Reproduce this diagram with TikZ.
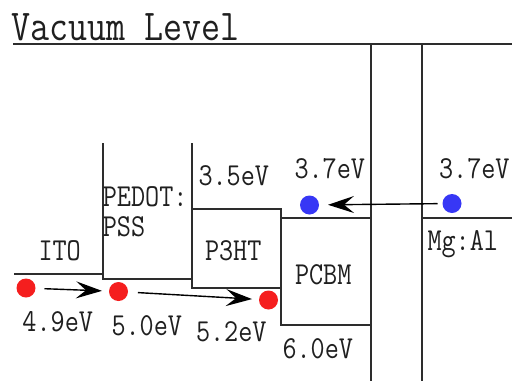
\documentclass[tikz,border=0pt]{standalone}
\usepackage{graphicx}
\usetikzlibrary{arrows.meta}
\definecolor{dotred}{RGB}{245,30,30}
\definecolor{dotblue}{RGB}{55,55,245}
\definecolor{lvlgray}{RGB}{45,45,45}
\newcommand\narrowtxt[1]{\scalebox{0.857}[1]{#1}}
\newcommand\narrowbig[1]{\scalebox{0.84}[1]{#1}}
\begin{document}
\begin{tikzpicture}[x=1pt,y=-1pt,
  lvl/.style={draw=lvlgray, line width=1.6pt, line join=miter},
  lab/.style={anchor=base west, inner sep=0pt, outer sep=0pt, font=\ttfamily\fontsize{32}{32}\selectfont, text=black!88},
  biglab/.style={anchor=base west, inner sep=0pt, outer sep=0pt, font=\ttfamily\fontsize{44}{44}\selectfont, text=black!88},
  dot/.style={circle, inner sep=0pt, outer sep=0pt, minimum size=19pt},
  arr/.style={-{Stealth[length=26pt,width=17pt,inset=10pt]}, line width=1.4pt, black}]
\useasboundingbox (0,0) rectangle (512,381);

% energy levels
\draw[lvl] (13,44) -- (512,44);
\draw[lvl] (371,44) -- (371,381);
\draw[lvl] (422,44) -- (422,381);
\draw[lvl] (14,274) -- (103,274);
\draw[lvl] (103,143) -- (103,279) -- (192,279);
\draw[lvl] (192,143) -- (192,288) -- (281,288);
\draw[lvl] (192,209) -- (281,209) -- (281,325) -- (371,325);
\draw[lvl] (281,218) -- (371,218);
\draw[lvl] (422,218) -- (512,218);

% labels
\node[biglab] (vac) at (11.5,40.7) {\narrowbig{Vacuum Level}};
\node[lab] (e35) at (198.5,185) {\narrowtxt{3.5eV}};
\node[lab] (pedot) at (102.8,206.7) {\narrowtxt{PEDOT:}};
\node[lab] (pss) at (102.8,236) {\narrowtxt{PSS}};
\node[lab] (p3ht) at (205,260) {\narrowtxt{P3HT}};
\node[lab] (ito) at (38.5,260.7) {\narrowtxt{ITO}};
\node[lab] (e49) at (22.5,331.7) {\narrowtxt{4.9eV}};
\node[lab] (e50) at (111.5,335) {\narrowtxt{5.0eV}};
\node[lab] (e52) at (196,341.7) {\narrowtxt{5.2eV}};
\node[lab] (e60) at (282.5,358) {\narrowtxt{6.0eV}};
\node[lab] (pcbm) at (295,284) {\narrowtxt{PCBM}};
\node[lab] (e37a) at (294.5,178) {\narrowtxt{3.7eV}};
\node[lab] (e37b) at (439,178) {\narrowtxt{3.7eV}};
\node[lab] (mgal) at (427.5,250) {\narrowtxt{Mg:Al}};

% carriers
\node[dot, fill=dotred] (h1) at (26,288) {};
\node[dot, fill=dotred] (h2) at (118.5,291.5) {};
\node[dot, fill=dotred] (h3) at (268.5,300) {};
\node[dot, fill=dotblue] (el1) at (309.5,205) {};
\node[dot, fill=dotblue] (el2) at (452,203.5) {};

% transfers
\draw[arr, shorten <=9pt, shorten >=7pt] (h1) -- (h2);
\draw[arr, shorten <=10pt, shorten >=7pt] (h2) -- (h3);
\draw[arr, shorten <=5pt, shorten >=9pt] (el2) -- (el1);
\end{tikzpicture}
\end{document}
